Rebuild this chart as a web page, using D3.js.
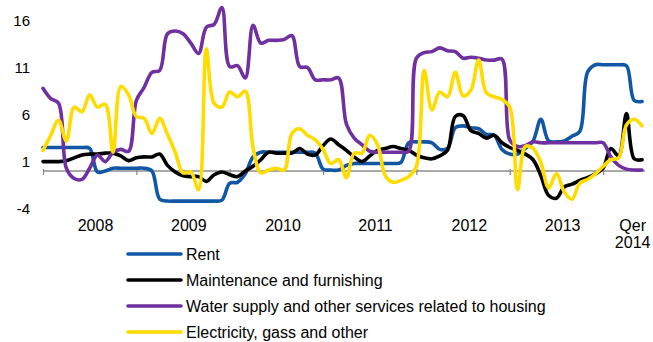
<!DOCTYPE html>
<html>
<head>
<meta charset="utf-8">
<script src="https://cdn.jsdelivr.net/npm/d3@7"></script>
<style>
  html, body { margin: 0; padding: 0; background: #fff; }
  svg { display: block; }
  text { font-family: "Liberation Sans", Arial, sans-serif; fill: #000; }
</style>
</head>
<body>
<svg id="chart" width="653" height="342"></svg>
<script>
// Monthly annual-change rates (%), mid-2007 onward, one value per month.
const rent = [
  2.5, 2.5, 2.5, 2.5, 2.5, 2.5, 2.4, -0.1, 0.0, 0.3,
  0.3, 0.3, 0.3, 0.3, 0.0, -3.0, -3.2, -3.2, -3.2, -3.2,
  -3.2, -3.2, -3.2, -3.1, -1.3, -1.2, -0.3, 1.5, 2.0, 2.0,
  2.0, 2.0, 2.0, 2.0, 2.0, 1.9, 0.2, 0.1, 0.1, 0.6,
  0.8, 0.8, 0.8, 0.8, 0.8, 0.8, 0.9, 3.0, 3.1, 3.1,
  3.0, 2.3, 2.4, 4.6, 4.8, 4.6, 4.5, 3.9, 3.8, 2.3,
  1.8, 1.8, 2.4, 3.2, 5.5, 3.2, 3.1, 3.2, 3.7, 4.2,
  10.5, 11.3, 11.3, 11.3, 11.3, 11.2, 7.5, 7.4
];
const maintenance = [
  1.0, 1.0, 1.0, 1.1, 1.4, 1.7, 1.8, 1.8, 1.9, 1.9,
  1.6, 1.1, 1.4, 1.5, 1.5, 1.8, 0.6, -0.1, -0.5, -0.6,
  -0.6, -1.1, -0.4, -0.1, -0.4, -0.6, 0.0, 0.5, 1.2, 2.0,
  1.9, 1.9, 1.9, 2.4, 1.8, 1.7, 2.7, 3.4, 2.8, 2.2,
  1.5, 1.0, 1.6, 2.2, 2.4, 2.6, 2.4, 2.2, 1.7, 1.4,
  1.3, 1.6, 2.2, 5.8, 5.9, 4.3, 4.0, 3.5, 3.8, 3.0,
  2.5, 2.2, 1.8, 1.2, -0.5, -2.6, -2.9, -1.7, -1.4, -1.0,
  -0.7, -0.3, 0.3, 2.4, 1.6, 6.1, 1.3, 1.2
];
const water = [
  8.8, 7.7, 7.2, 0.3, -0.8, -0.9, 0.3, 1.7, 1.0, 2.0,
  2.3, 2.1, 7.5, 8.9, 10.5, 10.7, 14.6, 14.9, 14.6, 13.6,
  12.5, 15.3, 15.6, 17.4, 11.1, 11.2, 9.9, 15.5, 13.6, 13.9,
  13.9, 14.0, 14.4, 11.1, 11.0, 9.7, 9.7, 9.7, 9.9, 5.0,
  3.5, 2.8, 2.1, 2.0, 2.0, 2.0, 2.0, 2.1, 12.0, 12.6,
  12.7, 13.1, 12.8, 12.7, 12.0, 12.1, 12.0, 11.8, 11.8, 11.9,
  3.3, 2.6, 2.7, 3.1, 3.0, 3.0, 3.0, 3.0, 3.0, 3.0,
  3.0, 3.0, 3.0, 1.5, 0.6, 0.2, 0.1, 0.1
];
const electricity = [
  2.2, 3.8, 5.4, 3.2, 6.8, 6.3, 8.1, 6.8, 7.1, 2.0,
  9.0, 8.1, 5.8, 5.6, 4.0, 5.6, 3.9, 2.0, -0.2, -0.1,
  -2.0, 13.0, 7.2, 6.8, 8.4, 7.9, 8.5, 2.5, -0.2, 0.1,
  0.3, 0.1, 4.0, 4.5, 3.8, 3.3, 2.3, 0.8, 1.2, -0.7,
  1.9, 1.9, 3.8, 2.8, -0.5, -1.2, -1.0, -0.6, 0.5, 10.7,
  6.5, 8.4, 7.9, 10.5, 8.0, 8.6, 11.8, 8.3, 7.9, 7.6,
  6.8, -2.0, 2.6, 2.4, 0.9, -1.8, -0.3, -2.2, -3.0, -1.3,
  -0.9, -0.3, 0.5, 1.2, 1.4, 4.9, 5.5, 4.8
];

const seriesNames = [
  "Rent",
  "Maintenance and furnishing",
  "Water supply and other services related to housing",
  "Electricity, gass and other"
];
const seriesColors = ["#1257a6", "#000000", "#7030a0", "#ffdc00"];
const seriesValues = [rent, maintenance, water, electricity];

const yTicks = [-4, 1, 6, 11, 16];
// Category labels along the time axis and the month index each sits under.
const xLabels = ["2008", "2009", "2010", "2011", "2012", "2013", ["Qer", "2014"]];
const xLabelAt = [6.75, 18.75, 30.85, 42.75, 54.8, 66.8, 75.8];
const xTickEvery = 12;

const svg = d3.select("#chart");
const n = rent.length;

const x = d3.scaleLinear().domain([0, n - 1]).range([43, 642]);
const y = d3.scaleLinear().domain([-4, 16]).range([208.6, 20.6]);

// y tick labels (no axis line)
svg.append("g")
  .selectAll("text")
  .data(yTicks)
  .join("text")
  .attr("x", 30)
  .attr("y", d => y(d))
  .attr("dy", "0.36em")
  .attr("text-anchor", "end")
  .style("font-size", "15px")
  .text(d => d);

// zero line with yearly tick marks
const xAxis = d3.axisBottom(x)
  .tickValues(d3.range(0, n, xTickEvery))
  .tickSizeInner(4)
  .tickSizeOuter(0)
  .tickFormat("");
const gx = svg.append("g")
  .attr("transform", `translate(0,${y(0)})`)
  .call(xAxis);
gx.select(".domain").attr("stroke", "#8c8c8c").attr("stroke-width", 1.6)
  .attr("d", `M${x(0)},0H${x(n - 1) + 3}`);
gx.selectAll(".tick line").attr("stroke", "#8c8c8c").attr("stroke-width", 1.3)
  .attr("y1", -2);

// year labels
const lab = svg.append("g").selectAll("text")
  .data(xLabels)
  .join("text")
  .attr("x", (d, i) => x(xLabelAt[i]))
  .attr("y", 231)
  .attr("text-anchor", "middle")
  .style("font-size", "16px");
lab.each(function (d, i) {
  const t = d3.select(this);
  const x0 = x(xLabelAt[i]);
  if (Array.isArray(d)) {
    d.forEach((s, k) => t.append("tspan").attr("x", x0).attr("dy", k === 0 ? 0 : 17).text(s));
  } else {
    t.text(d);
  }
});

// series lines
const line = d3.line()
  .x((d, i) => x(i))
  .y(d => y(d))
  .curve(d3.curveCatmullRom.alpha(0.5));

svg.append("g")
  .selectAll("path")
  .data(seriesValues)
  .join("path")
  .attr("fill", "none")
  .attr("stroke", (d, i) => seriesColors[i])
  .attr("stroke-width", 3.6)
  .attr("stroke-linejoin", "round")
  .attr("stroke-linecap", "round")
  .attr("d", line);

// legend
const leg = svg.append("g")
  .selectAll("g")
  .data(seriesNames)
  .join("g")
  .attr("transform", (d, i) => `translate(0,${254 + i * 26})`);
leg.append("line")
  .attr("x1", 128).attr("x2", 181)
  .attr("y1", 0).attr("y2", 0)
  .attr("stroke", (d, i) => seriesColors[i])
  .attr("stroke-width", 3.6)
  .attr("stroke-linecap", "round");
leg.append("text")
  .attr("x", 186)
  .attr("y", 6)
  .style("font-size", "16px")
  .text(d => d);
</script>
</body>
</html>
